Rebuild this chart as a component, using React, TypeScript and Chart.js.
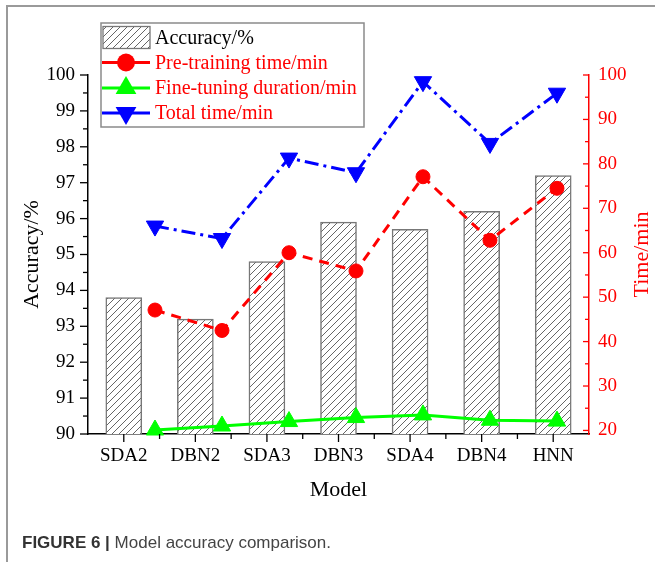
import React, { useEffect, useRef } from 'react';
import { Chart, registerables } from 'chart.js';
Chart.register(...registerables);

const categories = ['SDA2', 'DBN2', 'SDA3', 'DBN3', 'SDA4', 'DBN4', 'HNN'];
const accuracy = [93.8, 93.2, 94.8, 95.9, 95.7, 96.2, 97.2];
const preTraining = [47.1, 42.5, 60.0, 55.9, 77.1, 62.8, 74.5];
const fineTuning = [20.1, 21.0, 22.0, 22.9, 23.5, 22.3, 22.1];
const totalTime = [66.0, 63.2, 81.3, 78.0, 98.5, 84.6, 95.9];
const accuracyTicks = [90, 91, 92, 93, 94, 95, 96, 97, 98, 99, 100];
const timeTicks = [20, 30, 40, 50, 60, 70, 80, 90, 100];

const SERIF = "'Liberation Serif', 'Times New Roman', serif";

function makeHatch(): CanvasPattern | string {
  const c = document.createElement('canvas');
  c.width = 7;
  c.height = 7;
  const g = c.getContext('2d');
  if (!g) return '#fff';
  g.fillStyle = '#fff';
  g.fillRect(0, 0, 7, 7);
  g.strokeStyle = '#555';
  g.lineWidth = 0.9;
  g.beginPath();
  g.moveTo(0, 7); g.lineTo(7, 0);
  g.moveTo(-1, 1); g.lineTo(1, -1);
  g.moveTo(6, 8); g.lineTo(8, 6);
  g.stroke();
  return g.createPattern(c, 'repeat') || '#fff';
}

const toPoints = (arr: number[]) => arr.map((v, i) => ({ x: i, y: v }));
const mids = (arr: number[]) => arr.slice(1).map((v, i) => (v + arr[i]) / 2);

function drawMarker(ctx: CanvasRenderingContext2D, style: string, r: number, rot: number, cx: number, cy: number, color: string) {
  ctx.save();
  ctx.fillStyle = color;
  ctx.beginPath();
  if (style === 'circle') {
    ctx.arc(cx, cy, r, 0, Math.PI * 2);
  } else {
    let rad = (rot * Math.PI) / 180;
    ctx.moveTo(cx + Math.sin(rad) * r, cy - Math.cos(rad) * r);
    rad += (2 * Math.PI) / 3;
    ctx.lineTo(cx + Math.sin(rad) * r, cy - Math.cos(rad) * r);
    rad += (2 * Math.PI) / 3;
    ctx.lineTo(cx + Math.sin(rad) * r, cy - Math.cos(rad) * r);
    ctx.closePath();
  }
  ctx.fill();
  ctx.restore();
}

export default function App() {
  const ref = useRef<HTMLCanvasElement>(null);

  useEffect(() => {
    const hatch = makeHatch();

    const decor = {
      id: 'decor',
      afterDraw(chart: any) {
        const ctx = chart.ctx as CanvasRenderingContext2D;
        const { x, y, y2 } = chart.scales;
        const area = chart.chartArea;
        const line = (x1: number, y1: number, x2: number, y2p: number) => {
          ctx.beginPath(); ctx.moveTo(x1, y1); ctx.lineTo(x2, y2p); ctx.stroke();
        };
        ctx.save();
        // left axis ticks (outward)
        ctx.strokeStyle = '#000';
        ctx.lineWidth = 1.3;
        accuracyTicks.forEach(v => { const p = y.getPixelForValue(v); line(y.right - 8, p, y.right, p); });
        mids(accuracyTicks).forEach(v => { const p = y.getPixelForValue(v); line(y.right - 5, p, y.right, p); });
        // x axis ticks (outward)
        const xs = categories.map((_, i) => x.getPixelForValue(i));
        xs.forEach(p => line(p, area.bottom, p, area.bottom + 8));
        mids(xs).forEach(p => line(p, area.bottom, p, area.bottom + 5));
        // right axis ticks (inward)
        ctx.strokeStyle = '#ff0000';
        timeTicks.forEach(v => { const p = y2.getPixelForValue(v); line(y2.left - 6, p, y2.left, p); });
        mids(timeTicks).forEach(v => { const p = y2.getPixelForValue(v); line(y2.left - 4, p, y2.left, p); });
        // right axis title (reads bottom-to-top)
        ctx.fillStyle = '#ff0000';
        ctx.font = `22px ${SERIF}`;
        ctx.textAlign = 'center';
        ctx.textBaseline = 'middle';
        ctx.translate(y2.right - 13, (area.top + area.bottom) / 2);
        ctx.rotate(-Math.PI / 2);
        ctx.fillText('Time/min', 0, 0);
        ctx.restore();

        // legend
        ctx.save();
        const bx = area.left + 13, by = area.top - 52, bw = 263, bh = 104;
        ctx.fillStyle = '#fff';
        ctx.fillRect(bx, by, bw, bh);
        ctx.strokeStyle = '#8a8a8a';
        ctx.lineWidth = 1.5;
        ctx.strokeRect(bx, by, bw, bh);
        const rows = [by + 14.5, by + 39.5, by + 65, by + 90];
        ctx.fillStyle = hatch as any;
        ctx.fillRect(bx + 2, rows[0] - 11, 47, 22);
        ctx.strokeStyle = '#777';
        ctx.lineWidth = 1.3;
        ctx.strokeRect(bx + 2, rows[0] - 11, 47, 22);
        const series = [
          { color: '#ff0000', style: 'circle', r: 9, rot: 0 },
          { color: '#00ff00', style: 'triangle', r: 12, rot: 0 },
          { color: '#0000ff', style: 'triangle', r: 12, rot: 180 },
        ];
        series.forEach((s, i) => {
          const yy = rows[i + 1];
          ctx.strokeStyle = s.color;
          ctx.lineWidth = 3;
          line(bx + 1, yy, bx + 49, yy);
          drawMarker(ctx, s.style, s.r, s.rot, bx + 25, yy, s.color);
        });
        ctx.font = `20px ${SERIF}`;
        ctx.textAlign = 'left';
        ctx.textBaseline = 'middle';
        const labels = ['Accuracy/%', 'Pre-training time/min', 'Fine-tuning duration/min', 'Total time/min'];
        labels.forEach((t, i) => {
          ctx.fillStyle = i === 0 ? '#000' : '#ff0000';
          ctx.fillText(t, bx + 54, rows[i] + 1);
        });
        ctx.restore();
      },
    };

    const chart = new Chart(ref.current as HTMLCanvasElement, {
      type: 'bar',
      data: {
        labels: categories,
        datasets: [
          {
            type: 'bar',
            label: 'Accuracy/%',
            data: accuracy,
            xAxisID: 'x', yAxisID: 'y',
            backgroundColor: hatch as any,
            borderColor: '#777',
            borderWidth: 1.5,
            barThickness: 36,
            grouped: false,
            order: 2,
          } as any,
          {
            type: 'line',
            label: 'Pre-training time/min',
            data: toPoints(preTraining),
            xAxisID: 'x2', yAxisID: 'y2',
            borderColor: '#ff0000', borderWidth: 3, borderDash: [10, 7],
            pointStyle: 'circle', pointRadius: 7, pointBackgroundColor: '#ff0000', pointBorderColor: '#ff0000', pointBorderWidth: 1,
            tension: 0, fill: false, clip: false as any, order: 1,
          } as any,
          {
            type: 'line',
            label: 'Fine-tuning duration/min',
            data: toPoints(fineTuning),
            xAxisID: 'x2', yAxisID: 'y2',
            borderColor: '#00ff00', borderWidth: 3,
            pointStyle: 'triangle', pointRadius: 10, pointBackgroundColor: '#00ff00', pointBorderColor: '#00ff00', pointBorderWidth: 1,
            tension: 0, fill: false, clip: false as any, order: 1,
          } as any,
          {
            type: 'line',
            label: 'Total time/min',
            data: toPoints(totalTime),
            xAxisID: 'x2', yAxisID: 'y2',
            borderColor: '#0000ff', borderWidth: 3, borderDash: [14, 5, 3, 5],
            pointStyle: 'triangle', pointRotation: 180, pointRadius: 10, pointBackgroundColor: '#0000ff', pointBorderColor: '#0000ff', pointBorderWidth: 1,
            tension: 0, fill: false, clip: false as any, order: 1,
          } as any,
        ],
      },
      options: {
        responsive: false,
        animation: false,
        layout: { padding: { top: 75, left: 0, right: 0, bottom: 0 } },
        plugins: { legend: { display: false }, tooltip: { enabled: false }, title: { display: false } },
        scales: {
          x: {
            type: 'category',
            position: 'bottom',
            offset: true,
            grid: { display: false, drawTicks: false, offset: false },
            border: { display: true, color: '#000', width: 1.5 },
            ticks: { color: '#000', font: { family: SERIF, size: 19 }, padding: 11, maxRotation: 0, autoSkip: false },
            title: { display: true, text: 'Model', color: '#000', font: { family: SERIF, size: 22 }, padding: { top: 0, bottom: 59 } },
            afterFit: (s: any) => { s.height = 128; },
          },
          x2: { type: 'linear', display: false, offset: false, grid: { offset: false }, min: -1.0, max: 6.478, position: 'bottom' },
          y: {
            type: 'linear',
            position: 'left',
            min: 90,
            max: 100,
            afterBuildTicks: (s: any) => { s.ticks = accuracyTicks.map(v => ({ value: v })); },
            grid: { display: false, drawTicks: false },
            border: { display: true, color: '#000', width: 1.5 },
            ticks: { color: '#000', font: { family: SERIF, size: 19 }, padding: 13 },
            title: { display: true, text: 'Accuracy/%', color: '#000', font: { family: SERIF, size: 22 }, padding: { top: 19, bottom: 0 } },
            afterFit: (s: any) => { s.width = 88; },
          },
          y2: {
            type: 'linear',
            position: 'right',
            min: 19.2,
            max: 100,
            afterBuildTicks: (s: any) => { s.ticks = timeTicks.map(v => ({ value: v })); },
            grid: { display: false, drawTicks: false },
            border: { display: true, color: '#ff0000', width: 1.5 },
            ticks: { color: '#ff0000', font: { family: SERIF, size: 19 }, padding: 9 },
            afterFit: (s: any) => { s.width = 66; },
          },
        } as any,
      },
      plugins: [decor as any],
    });
    return () => chart.destroy();
  }, []);

  return (
    <div style={{ position: 'fixed', left: 0, top: 0, width: 655, height: 562, background: '#fff', overflow: 'hidden' }}>
      <div style={{ position: 'absolute', left: 6, top: 5, right: -10, bottom: -10, borderTop: '2px solid #9a9a9a', borderLeft: '2px solid #9a9a9a' }} />
      <canvas ref={ref} width={655} height={562} style={{ position: 'absolute', left: 0, top: 0, width: 655, height: 562 }} />
      <div style={{ position: 'absolute', left: 22, top: 533, font: '17px "Liberation Sans", Arial, sans-serif', color: '#444', whiteSpace: 'nowrap', lineHeight: '20px' }}>
        <b style={{ color: '#333' }}>FIGURE 6 |</b> Model accuracy comparison.
      </div>
    </div>
  );
}
